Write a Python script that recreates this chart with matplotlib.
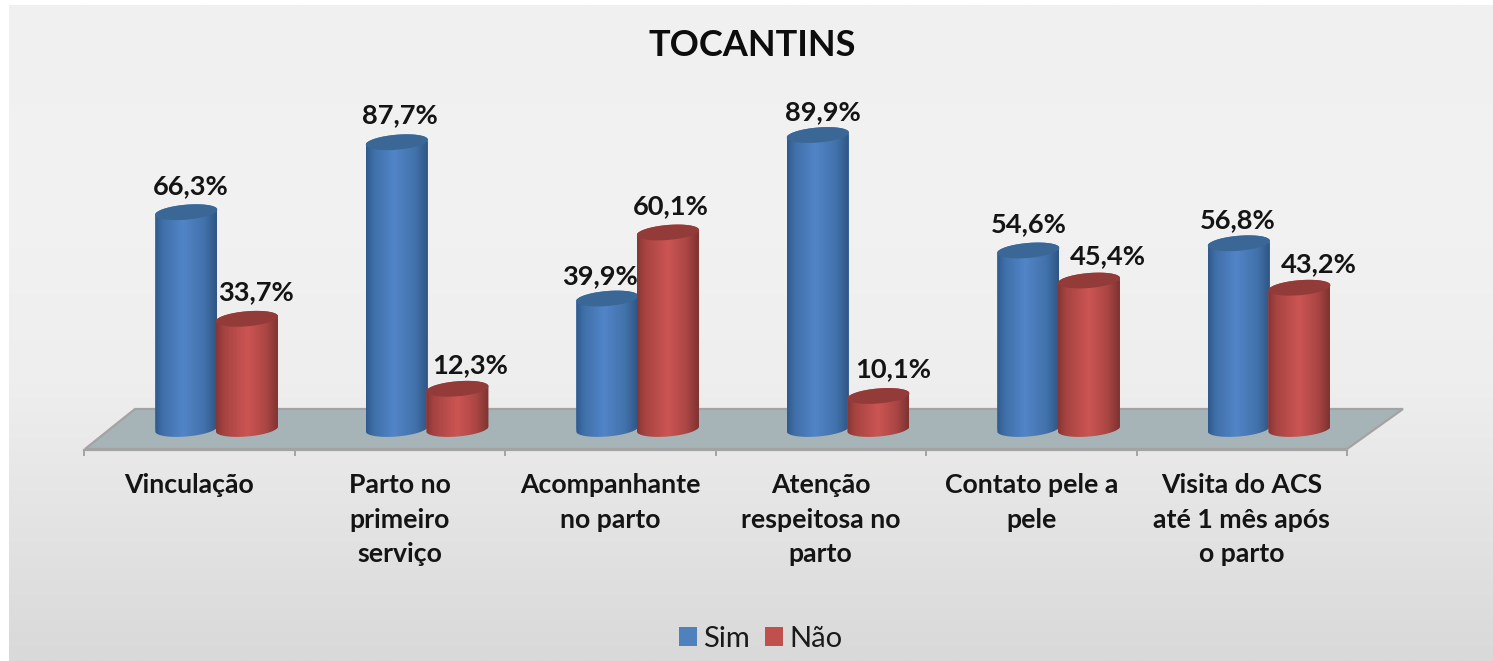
import numpy as np
import matplotlib
matplotlib.use("Agg")
import matplotlib.pyplot as plt
from matplotlib.path import Path
from matplotlib.patches import Polygon
from matplotlib.colors import LinearSegmentedColormap

# ---- data ----
categories = ["Vinculação", "Parto no\nprimeiro\nserviço", "Acompanhante\nno parto",
              "Atenção\nrespeitosa no\nparto", "Contato pele a\npele",
              "Visita do ACS\naté 1 mês após\no parto"]
sim = [66.3, 87.7, 39.9, 89.9, 54.6, 56.8]
nao = [33.7, 12.3, 60.1, 10.1, 45.4, 43.2]
series_names = ["Sim", "Não"]
title = "TOCANTINS"

# ---- layout (pixels of the 1493x661 canvas) ----
W, H = 1493, 661
PX_PER_CAT = 210.5
PX_PER_VAL = 3.27
X0_PX = 189.25      # pixel of category 0
Y0_PX = 429.0       # pixel of value 0
xu = 1 / PX_PER_CAT
yu = 1 / PX_PER_VAL

plt.rcParams["font.family"] = "Lato"
fig = plt.figure(figsize=(W / 100, H / 100), dpi=100, facecolor="white")
ax = fig.add_axes([0, 0, 1, 1])
xlim = (-X0_PX * xu, (W - X0_PX) * xu)
ylim = (-(H - Y0_PX) * yu, Y0_PX * yu)
def px(x): return (x - X0_PX) * xu
def py(y): return (Y0_PX - y) * yu

# background panel with gradient
bg_cmap = LinearSegmentedColormap.from_list(
    "bg", [(0, "#f0f0f0"), (0.3, "#f2f2f2"), (0.58, "#eeeeee"), (1, "#d9d9d9")])
ax.imshow(np.linspace(0, 1, 256)[:, None], cmap=bg_cmap, aspect="auto", vmin=0, vmax=1,
          extent=[px(9), px(W), py(661), py(5)], origin="upper", zorder=0)

# floor
floor = Polygon([(px(85), py(449)), (px(135), py(409)), (px(1403), py(409)), (px(1347), py(449))],
                closed=True, facecolor="#a6b4b8", edgecolor="#a3a3a3", linewidth=1.6, zorder=1)
ax.add_patch(floor)

blue_cmap = LinearSegmentedColormap.from_list(
    "b", [(0, "#2f5a8c"), (0.12, "#3f6fa8"), (0.45, "#5285c8"), (0.8, "#4272ab"), (1, "#2f5684")])
red_cmap = LinearSegmentedColormap.from_list(
    "r", [(0, "#853634"), (0.12, "#a54341"), (0.5, "#cc5553"), (0.8, "#ab4644"), (1, "#7d3331")])

HALF_W = 31.0 * xu
ELL_B = 7.5 * yu
ELL_T = 2.5 * yu
BAR_W = 2 * HALF_W
t = np.linspace(0, 2 * np.pi, 121)


def cylinder(x, v, colour, cmap, top_colour, z):
    bars = ax.bar([x], [v], width=BAR_W, color=colour, zorder=z)
    # outline of the body: bottom half-ellipse at 0 and top edge at value v
    tb = np.linspace(np.pi, 2 * np.pi, 60)
    bx = x + HALF_W * np.cos(tb)
    by = ELL_T * np.cos(tb) + ELL_B * np.sin(tb)
    tt = np.linspace(0, np.pi, 60)
    tx = x + HALF_W * np.cos(tt)
    ty = v + ELL_T * np.cos(tt) + ELL_B * np.sin(tt)
    body = Path(np.column_stack([np.r_[bx, tx], np.r_[by, ty]]))
    bars[0].set_clip_path(body, transform=ax.transData)
    im = ax.imshow(np.linspace(0, 1, 128)[None, :], cmap=cmap, aspect="auto", vmin=0, vmax=1,
                   extent=[x - HALF_W, x + HALF_W, -3 * ELL_B, v + 3 * ELL_B], zorder=z + 0.1,
                   interpolation="bilinear")
    im.set_clip_path(body, transform=ax.transData)
    cap = Polygon(np.column_stack([x + HALF_W * np.cos(t),
                                   v + ELL_T * np.cos(t) + ELL_B * np.sin(t)]),
                  closed=True, facecolor=top_colour, edgecolor="none", zorder=z + 0.2)
    ax.add_patch(cap)
    return bars


OFF_B, OFF_R = -0.014, 0.274
handles = [None, None]
for i in range(len(categories)):
    handles[0] = cylinder(i + OFF_B, sim[i], "#4f81bd", blue_cmap, "#3b6796", 2 + i)
    handles[1] = cylinder(i + OFF_R, nao[i], "#c0504d", red_cmap, "#923b39", 2.5 + i)

# data labels: offsets from the cylinder top, in px
sim_off = [(4, 26), (3, 27), (-7, 22), (5, 23), (0, 26), (-1, 23)]
nao_off = [(9, 27), (13, 24), (3, 26), (15, 27), (19, 24), (19, 24)]
lab_kw = dict(textcoords="offset points", ha="center", va="center", fontsize=19.6,
              fontweight="bold", color="#141414", zorder=30)
for i in range(len(categories)):
    ax.annotate(f"{sim[i]:.1f}%".replace(".", ","), (i + OFF_B, sim[i]),
                xytext=(sim_off[i][0] * .72, sim_off[i][1] * .72), **lab_kw)
    ax.annotate(f"{nao[i]:.1f}%".replace(".", ","), (i + OFF_R, nao[i]),
                xytext=(nao_off[i][0] * .72, nao_off[i][1] * .72), **lab_kw)

ax.set_xlim(*xlim)
ax.set_ylim(*ylim)
ax.set_aspect("auto")

# axis
for s in ("top", "left", "right"):
    ax.spines[s].set_visible(False)
ax.spines["bottom"].set_position(("data", py(449.5)))
ax.spines["bottom"].set_bounds(-0.5, len(categories) - 0.5)
ax.spines["bottom"].set_color("#a3a3a3")
ax.spines["bottom"].set_linewidth(1.6)
ax.spines["bottom"].set_zorder(1.5)
ax.set_yticks([])
ax.set_xticks(np.arange(len(categories) + 1) - 0.5)
ax.set_xticklabels([])
ax.tick_params(axis="x", which="major", length=4.5, width=1.4, color="#a3a3a3")
ax.set_xticks(np.arange(len(categories)), minor=True)
ax.set_xticklabels(categories, minor=True, fontsize=19.2, fontweight="bold",
                   color="#141414", linespacing=1.52)
ax.tick_params(axis="x", which="minor", length=0, pad=17)

ax.set_title(title, fontsize=26, fontweight="bold", color="#0d0d0d",
             x=752.5 / W, y=1 - 54 / H, va="center")

ax.legend([handles[0][0], handles[1][0]], series_names, loc="center",
          bbox_to_anchor=(760.5 / W, 1 - 639 / H), ncol=2, frameon=False, fontsize=21,
          handlelength=0.62, handleheight=0.62, handletextpad=0.2, columnspacing=0.53,
          labelcolor="#1a1a1a")

fig.savefig("out.png", dpi=100, facecolor="white")
